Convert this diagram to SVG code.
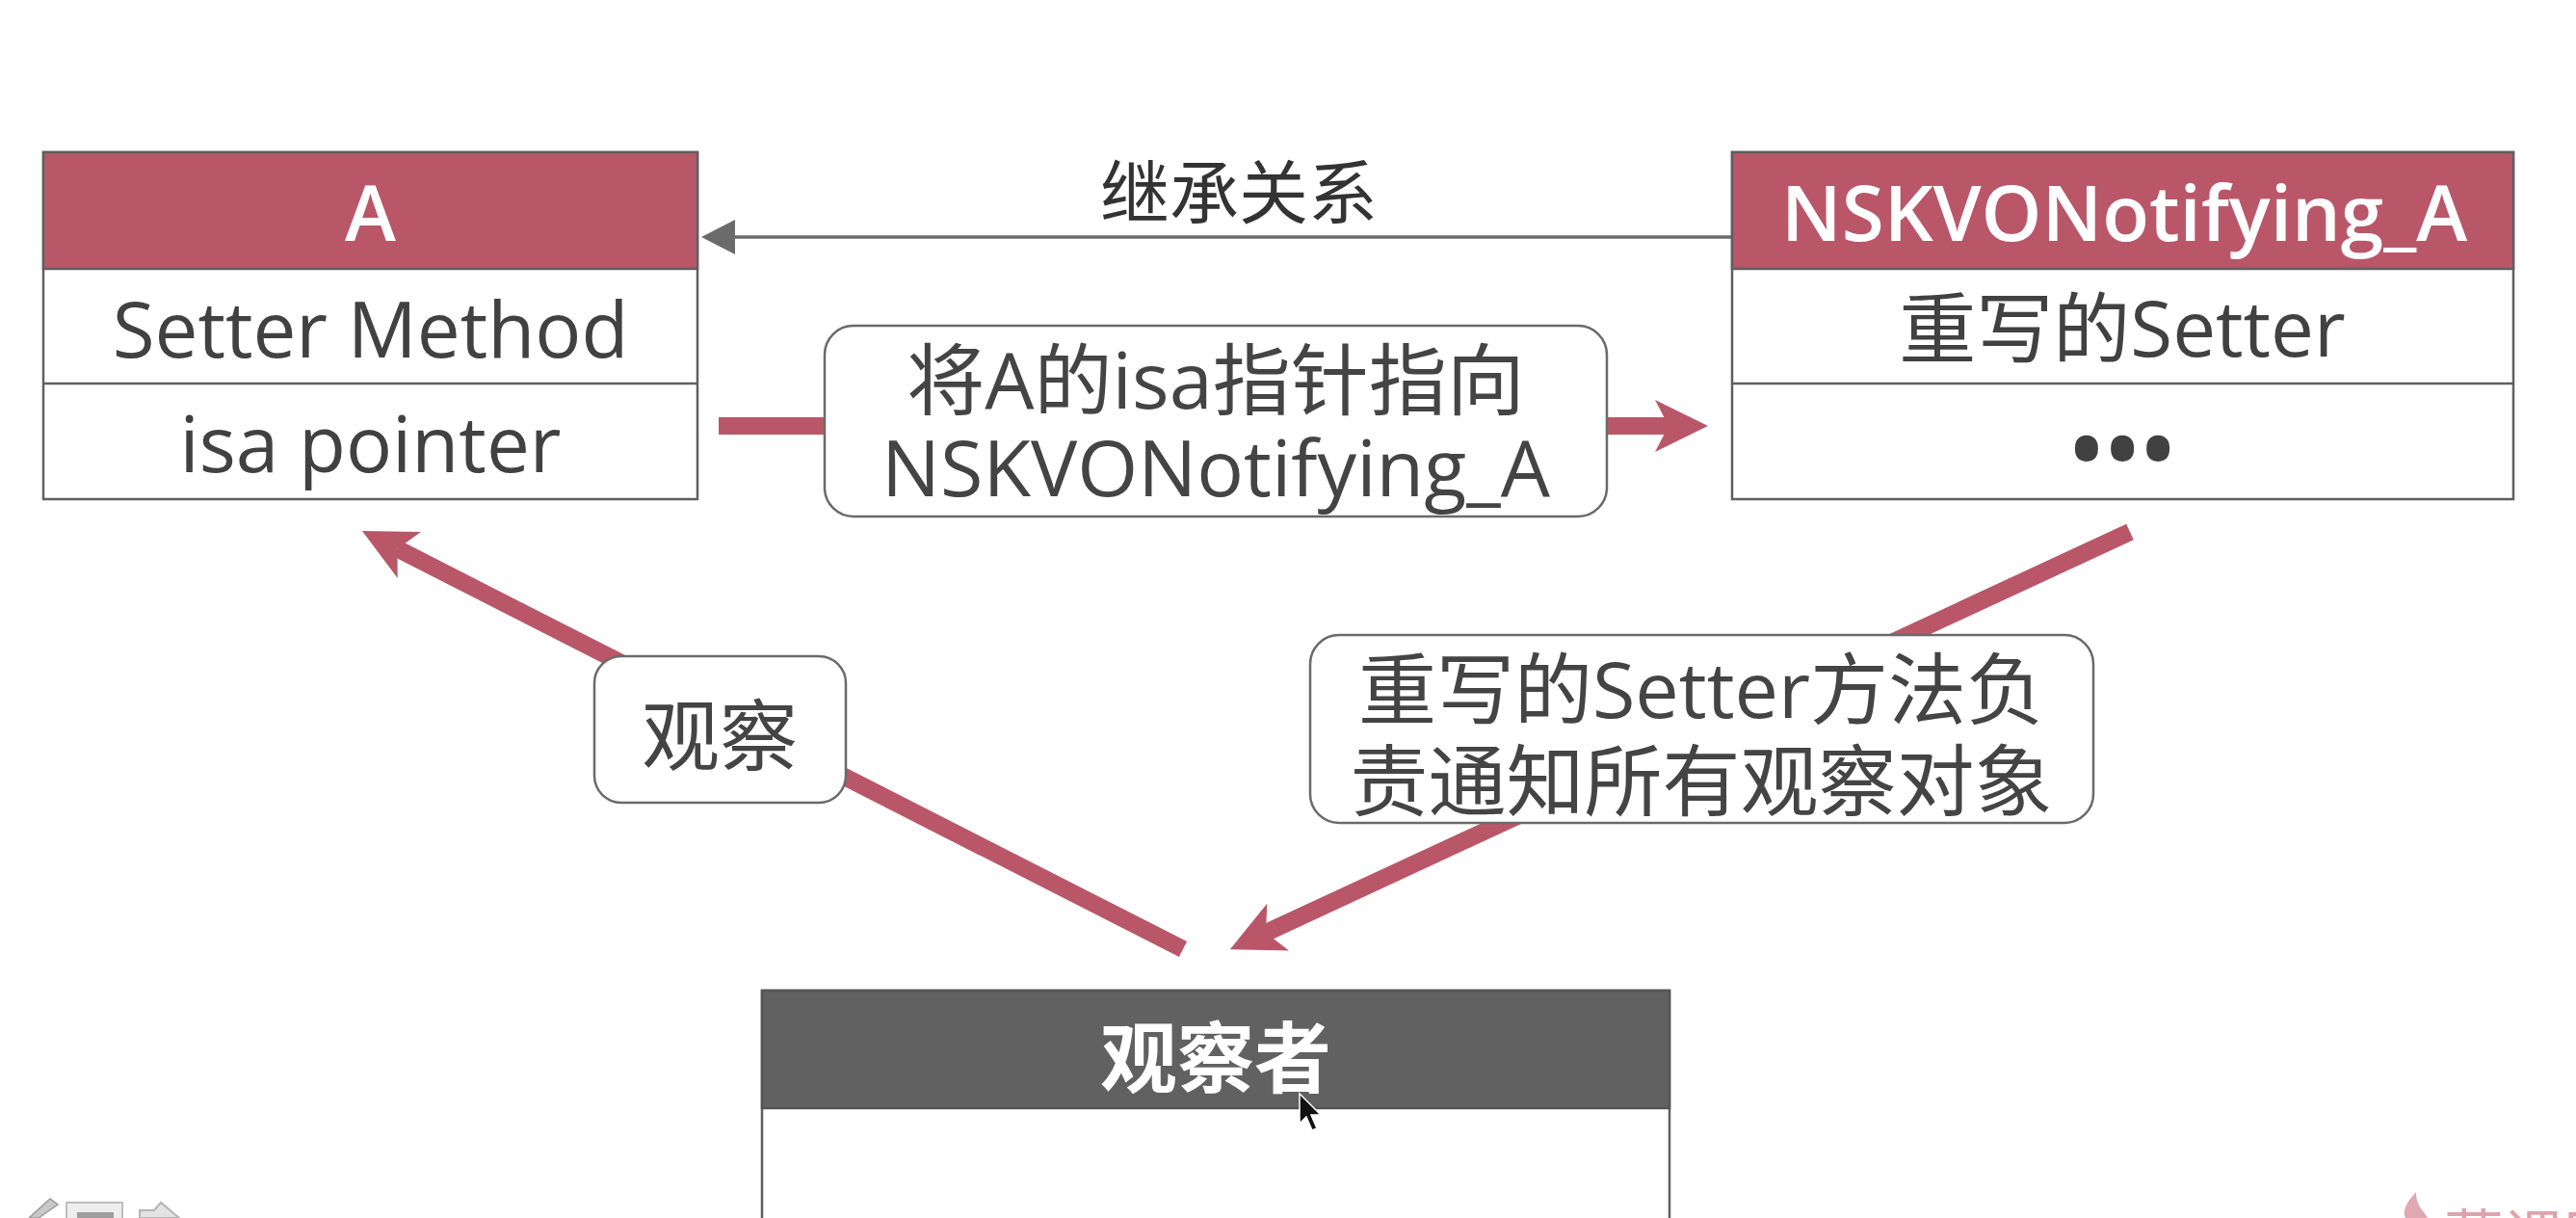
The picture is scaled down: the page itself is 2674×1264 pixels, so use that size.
<svg xmlns="http://www.w3.org/2000/svg" width="2674" height="1264" viewBox="0 0 2674 1264">
<style>
  text { font-family: "Open Sans", "Noto Sans CJK SC", sans-serif; text-anchor: middle; }
  .box { fill: #ffffff; stroke: #5f5f5f; stroke-width: 2.5; }
  .hdr { fill: #b95769; stroke: #5f5f5f; stroke-width: 2.5; }
  .hdr-gray { fill: #616161; stroke: #555555; stroke-width: 2.5; }
  .div { stroke: #5f5f5f; stroke-width: 2.5; }
  .ht { fill: #ffffff; font-size: 80px; font-weight: 600; }
  .bt { fill: #414141; font-size: 80px; }
  .dots { fill: #414141; font-size: 115px; letter-spacing: -6px; }
  .lbl { fill: #ffffff; stroke: #6a6a6a; stroke-width: 2.5; }
  .lt { fill: #444444; font-size: 81px; }
  .red { stroke: #b95769; stroke-width: 18; fill: none; stroke-linecap: butt; }
  .inh { stroke: #6b6b6b; stroke-width: 3.5; fill: none; }
</style>
<defs>
  <marker id="redHead" markerUnits="userSpaceOnUse" viewBox="0 0 55 54" markerWidth="55" markerHeight="54" refX="14" refY="27" orient="auto">
    <path d="M0,0 L55,27 L0,54 L14,27 Z" fill="#b95769"/>
  </marker>
  <marker id="grayHead" markerUnits="userSpaceOnUse" viewBox="0 0 35 36" markerWidth="35" markerHeight="36" refX="0" refY="18" orient="auto">
    <path d="M0,0 L35,18 L0,36 Z" fill="#6b6b6b"/>
  </marker>
</defs>
<rect width="2674" height="1264" fill="#ffffff"/>

<g id="connectors">
  <line id="inherit" class="inh" x1="1798" y1="246" x2="763" y2="246" marker-end="url(#grayHead)"/>
  <line id="isa-link" class="red" x1="746" y1="442" x2="1732" y2="442" marker-end="url(#redHead)"/>
  <line id="observe" class="red" x1="1228" y1="985" x2="412.5" y2="569.6" marker-end="url(#redHead)"/>
  <line id="notify" class="red" x1="2211" y1="552" x2="1314" y2="968" marker-end="url(#redHead)"/>
  <text x="1286" y="226" fill="#333333" style="font-size:72px">继承关系</text>
</g>

<g id="node-A">
  <rect class="box" x="45" y="158" width="679" height="360"/>
  <rect class="hdr" x="45" y="158" width="679" height="121"/>
  <line class="div" x1="45" y1="398" x2="724" y2="398"/>
  <text class="ht" x="384.5" y="250">A</text>
  <text class="bt" x="384.5" y="371">Setter Method</text>
  <text class="bt" x="384.5" y="490">isa pointer</text>
</g>

<g id="node-NSKVONotifying_A">
  <rect class="box" x="1798" y="158" width="811" height="360"/>
  <rect class="hdr" x="1798" y="158" width="811" height="121"/>
  <line class="div" x1="1798" y1="398" x2="2609" y2="398"/>
  <text class="ht" x="2205" y="250">NSKVONotifying_A</text>
  <text class="bt" x="2203" y="370">重写的Setter</text>
  <text class="dots" x="2200" y="508">•••</text>
</g>

<g id="node-observer">
  <rect class="box" x="791" y="1028" width="942" height="300"/>
  <rect class="hdr-gray" x="791" y="1028" width="942" height="122"/>
  <text class="ht" x="1262" y="1127">观察者</text>
</g>

<g id="label-isa">
  <rect class="lbl" x="856" y="338" width="812" height="198" rx="30" ry="30"/>
  <text class="lt" x="1262" y="424">将A的isa指针指向</text>
  <text class="lt" x="1262" y="515">NSKVONotifying_A</text>
</g>

<g id="label-observe">
  <rect class="lbl" x="617" y="681" width="261" height="152" rx="28" ry="28"/>
  <text class="lt" x="747" y="793">观察</text>
</g>

<g id="label-notify">
  <rect class="lbl" x="1360" y="659" width="813" height="195" rx="30" ry="30"/>
  <text class="lt" x="1766" y="745">重写的Setter方法负</text>
  <text class="lt" x="1766" y="840">责通知所有观察对象</text>
</g>

<g id="screen-overlay">
  <polygon points="1349,1135 1349,1166 1356,1159 1362,1173 1367,1171 1361,1157 1371,1157" fill="#111111" stroke="#ffffff" stroke-width="1.5"/>
  <polygon points="30,1264 52,1244 60,1250 40,1264" fill="#c8c8c8" stroke="#9a9a9a" stroke-width="1.5"/>
  <rect x="69" y="1248" width="58" height="24" fill="#eeeeee" stroke="#bdbdbd" stroke-width="2"/>
  <rect x="80" y="1258" width="38" height="12" fill="#9e9e9e"/>
  <polygon points="145,1264 145,1256 160,1256 167,1248 186,1264" fill="#e3e3e3" stroke="#b5b5b5" stroke-width="2"/>
  <path d="M2508,1237 C2496,1250 2494,1258 2497,1264 L2520,1264 C2516,1256 2508,1252 2508,1237 Z" fill="#e0a8b0"/>
  <text x="2537" y="1307" fill="#dea3ac" style="font-size:62px;text-anchor:start">慕课网</text>
</g>
</svg>
